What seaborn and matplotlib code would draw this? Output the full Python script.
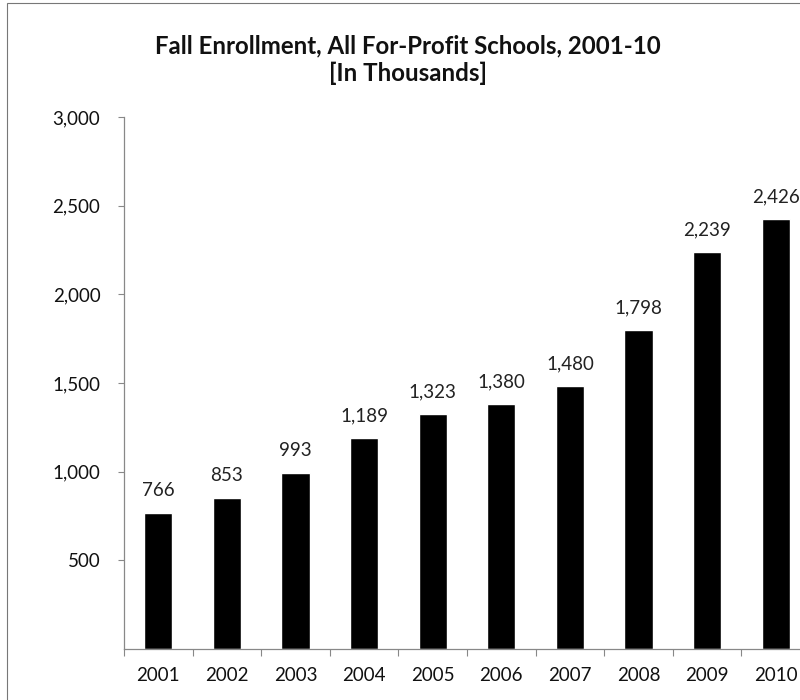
import matplotlib
matplotlib.use("Agg")
import matplotlib.pyplot as plt
import seaborn as sns
import pandas as pd
from matplotlib.patches import Rectangle

years = ["2001", "2002", "2003", "2004", "2005", "2006", "2007", "2008", "2009", "2010"]
enrollment = [766, 853, 993, 1189, 1323, 1380, 1480, 1798, 2239, 2426]
y_ticks = [500, 1000, 1500, 2000, 2500, 3000]

sns.set_theme(style="white")
plt.rcParams["font.family"] = ["Lato", "DejaVu Sans"]

df = pd.DataFrame({"year": years, "enrollment": enrollment})

fig = plt.figure(figsize=(8, 7), dpi=100)
ax = fig.add_axes([0.155, 0.073, 0.8575, 0.76])

sns.barplot(data=df, x="year", y="enrollment", color="black", width=0.41,
            saturation=1, ax=ax)

ax.set_ylim(0, 3000)
ax.set_xlim(-0.5, len(years) - 0.5)
ax.set_yticks(y_ticks)
ax.set_yticklabels([f"{v:,}" for v in y_ticks])
ax.set_xlabel("")
ax.set_ylabel("")

# value labels above each bar
for i, v in enumerate(enrollment):
    ax.annotate(f"{v:,}", xy=(i, v), xytext=(0, 16), textcoords="offset points",
                ha="center", va="center", fontsize=13.5, color="#222222")

# category ticks sit between the bars
ax.set_xticks(range(len(years)))
ax.set_xticklabels(years)
ax.set_xticks([i + 0.5 for i in range(-1, len(years))], minor=True)
ax.tick_params(axis="x", which="major", length=0, pad=13, labelsize=13.5, colors="#111111")
ax.tick_params(axis="x", which="minor", length=5, width=0.8, color="#888888", direction="out",
               bottom=True)
ax.tick_params(axis="y", length=4, width=0.8, color="#888888", direction="out", left=True,
               pad=13, labelsize=13.5, labelcolor="#111111")

for side in ("top", "right"):
    ax.spines[side].set_visible(False)
for side in ("left", "bottom"):
    ax.spines[side].set_color("#888888")
    ax.spines[side].set_linewidth(0.9)

fig.text(0.51, 0.935, "Fall Enrollment, All For-Profit Schools, 2001-10",
         ha="center", va="center", fontsize=17.3, fontweight="bold", color="#111111")
fig.text(0.51, 0.895, "[In Thousands]",
         ha="center", va="center", fontsize=17.3, fontweight="bold", color="#111111")

# outer frame of the chart area
fig.patches.append(Rectangle((0.009, -0.01), 1.2, 1.006, transform=fig.transFigure,
                             fill=False, edgecolor="#777777", linewidth=0.8))

fig.savefig("out.png", dpi=100)
